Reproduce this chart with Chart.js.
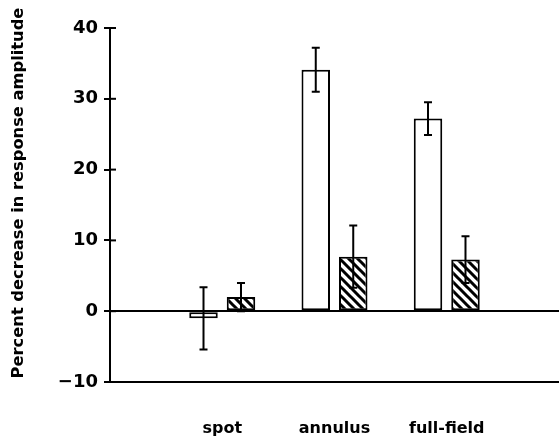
<!DOCTYPE html>
<html>
<head>
<meta charset="utf-8">
<script src="https://cdn.jsdelivr.net/npm/chart.js@4"></script>
<style>
  html, body { margin: 0; padding: 0; background: #fff; }
  #wrap { width: 559px; height: 442px; }
</style>
</head>
<body>
<div id="wrap"><canvas id="chart" width="559" height="442"></canvas></div>
<script>
// categories (empty slots at both ends keep the spacing of the original)
const categories = ['', 'spot', 'annulus', 'full-field', ''];
// open bars
const openValues = [null, -1.0, 34.1, 27.2, null];
const openErrors = [null, 4.4, 3.1, 2.3, null];
// hatched bars
const hatchValues = [null, 2.0, 7.7, 7.3, null];
const hatchErrors = [null, 2.0, 4.4, 3.3, null];
// y axis
const yMin = -10;
const yMax = 40;
const yStep = 10;
const yTitle = 'Percent decrease in response amplitude';

function makeHatch() {
    const size = 9;
    const c = document.createElement('canvas');
    c.width = size;
    c.height = size;
    const g = c.getContext('2d');
    g.fillStyle = '#fff';
    g.fillRect(0, 0, size, size);
    g.strokeStyle = '#000';
    g.lineWidth = 3;
    g.beginPath();
    g.moveTo(-2, -2); g.lineTo(size + 2, size + 2);
    g.moveTo(-2, size - 2); g.lineTo(2, size + 2);
    g.moveTo(size - 2, -2); g.lineTo(size + 2, 2);
    g.stroke();
    return g.createPattern(c, 'repeat');
}

// error bars with caps, drawn over the bars
const errorBars = {
    id: 'errorBars',
    afterDatasetsDraw(chart) {
        const ctx = chart.ctx;
        const y = chart.scales.y;
        ctx.save();
        ctx.strokeStyle = '#000';
        ctx.lineWidth = 2;
        chart.data.datasets.forEach((ds, i) => {
            const meta = chart.getDatasetMeta(i);
            meta.data.forEach((bar, j) => {
                const v = ds.data[j];
                const e = ds.errors[j];
                if (v === null || e === null) return;
                const top = y.getPixelForValue(v + e);
                const bot = y.getPixelForValue(v - e);
                ctx.beginPath();
                ctx.moveTo(bar.x, top); ctx.lineTo(bar.x, bot);
                ctx.moveTo(bar.x - 4, top); ctx.lineTo(bar.x + 4, top);
                ctx.moveTo(bar.x - 4, bot); ctx.lineTo(bar.x + 4, bot);
                ctx.stroke();
            });
        });
        ctx.restore();
    }
};

// tick marks also cross to the inside of the y axis, plus the axis title
const yExtras = {
    id: 'yExtras',
    afterDraw(chart) {
        const ctx = chart.ctx;
        const y = chart.scales.y;
        ctx.save();
        ctx.strokeStyle = '#000';
        ctx.lineWidth = 2;
        y.ticks.forEach(t => {
            const py = y.getPixelForValue(t.value);
            ctx.beginPath();
            ctx.moveTo(y.right, py);
            ctx.lineTo(y.right + 6, py);
            ctx.stroke();
        });
        ctx.translate(19, 193);
        ctx.rotate(-Math.PI / 2);
        ctx.fillStyle = '#000';
        ctx.font = 'bold 16.3px "DejaVu Sans"';
        ctx.textAlign = 'center';
        ctx.textBaseline = 'middle';
        ctx.fillText(yTitle, 0, 0);
        ctx.restore();
    }
};

const ctx = document.getElementById('chart').getContext('2d');
const chart = new Chart(ctx, {
    type: 'bar',
    data: {
        labels: categories,
        datasets: [{
            data: openValues,
            errors: openErrors,
            backgroundColor: '#fff',
            borderColor: '#000',
            borderWidth: 2,
            borderSkipped: false
        }, {
            data: hatchValues,
            errors: hatchErrors,
            backgroundColor: makeHatch(),
            borderColor: '#000',
            borderWidth: 2,
            borderSkipped: false
        }]
    },
    options: {
        responsive: false,
        animation: false,
        categoryPercentage: 0.668,
        barPercentage: 0.76,
        layout: { padding: { top: 28, left: 0, right: 0, bottom: 0 } },
        plugins: {
            legend: { display: false },
            tooltip: { enabled: false }
        },
        scales: {
            x: {
                type: 'category',
                offset: false,
                grid: { display: false, drawTicks: false },
                border: { display: false },
                ticks: {
                    color: '#000',
                    font: { family: 'DejaVu Sans', size: 16, weight: 'bold' },
                    padding: 37,
                    maxRotation: 0,
                    autoSkip: false
                },
                afterFit(scale) {
                    scale.height = 60;
                    scale.paddingLeft = 0;
                    scale.paddingRight = 0;
                }
            },
            y: {
                min: yMin,
                max: yMax,
                ticks: {
                    stepSize: yStep,
                    color: '#000',
                    font: { family: 'DejaVu Sans', size: 18, weight: 'bold' },
                    padding: 6,
                    callback: v => String(v).replace('-', '\u2212')
                },
                grid: {
                    color: c => (c.tick && (c.tick.value === 0 || c.tick.value === yMin)) ? '#000' : 'rgba(0,0,0,0)',
                    lineWidth: 2,
                    tickColor: '#000',
                    tickWidth: 2,
                    tickLength: 6
                },
                border: { display: true, color: '#000', width: 2 },
                title: { display: false },
                afterFit(scale) { scale.width = 110; }
            }
        }
    },
    plugins: [errorBars, yExtras]
});
</script>
</body>
</html>
